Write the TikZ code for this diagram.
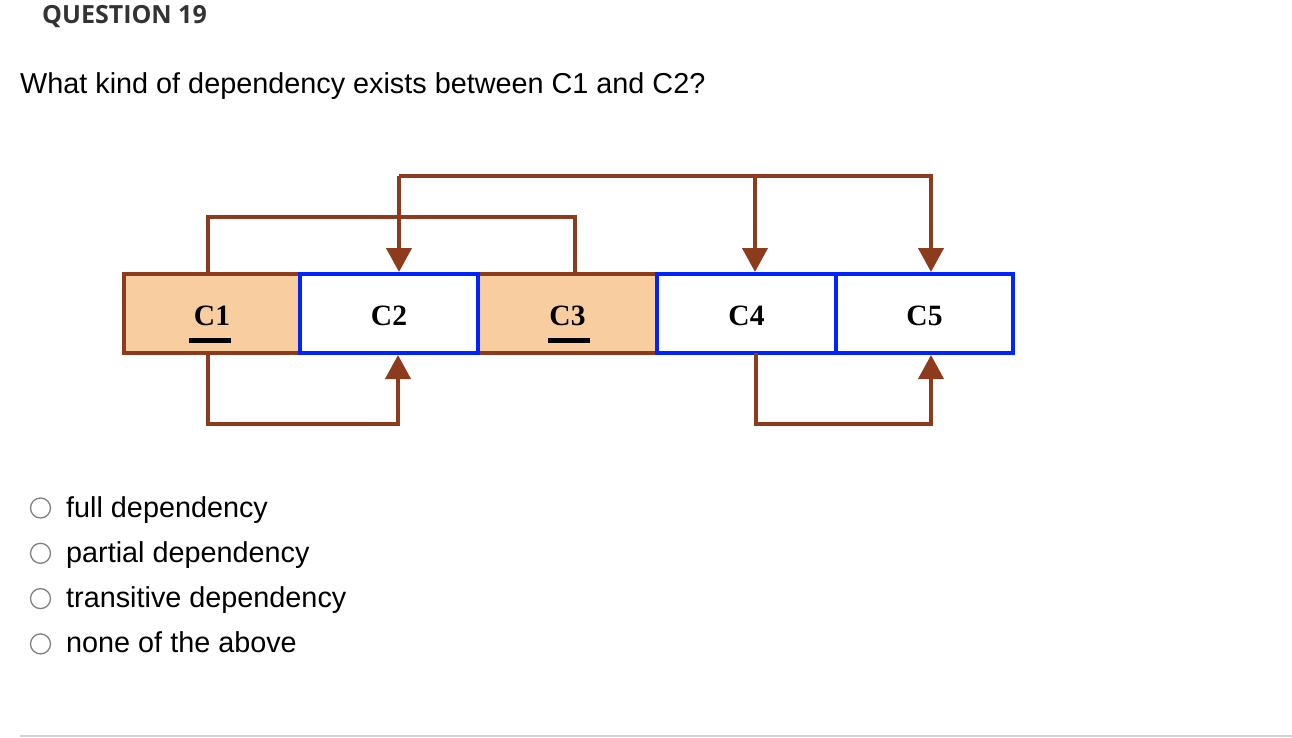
\documentclass[tikz,border=0pt]{standalone}
\usepackage{fontspec}
\setmainfont{Liberation Sans}
\newfontfamily\headfont{Open Sans}
\newfontfamily\cellfont{Liberation Serif}
\usetikzlibrary{arrows.meta}
\definecolor{brownline}{RGB}{140,60,28}
\definecolor{peach}{RGB}{248,206,160}
\definecolor{blueline}{RGB}{0,36,255}
\definecolor{headgray}{RGB}{51,51,51}
\definecolor{radiogray}{RGB}{128,128,128}
\definecolor{rulegray}{RGB}{210,210,210}
\tikzset{
  cellbase/.style={rectangle, line width=4pt, minimum height=79pt, inner sep=0pt, outer sep=0pt,
    text height=24pt, text depth=0pt,
    font=\cellfont\bfseries\fontsize{29.5}{32}\selectfont},
  keycell/.style={cellbase, draw=brownline, fill=peach, minimum width=176pt},
  depcell/.style={cellbase, draw=blueline, fill=white},
  dep/.style={draw=brownline, line width=4pt, line join=miter},
  deparrow/.style={dep, -{Triangle[width=25pt,length=24pt]}},
  keybar/.style={fill=black},
  radio/.style={circle, draw=radiogray, line width=1.3pt, minimum size=20pt, inner sep=0pt},
  opt/.style={anchor=base west, inner sep=0pt, font=\fontsize{28.8}{32}\selectfont},
}
\begin{document}
\begin{tikzpicture}[x=1pt,y=-1pt]
\useasboundingbox (0,0) rectangle (1292,738);
% header texts
\node[anchor=base west, inner sep=0pt, text=headgray, font=\headfont\bfseries\fontsize{25}{28}\selectfont] (head) at (42,23.5) {QUESTION 19};
\node[anchor=base west, inner sep=0pt, font=\fontsize{28.8}{32}\selectfont] (quest) at (20,93.5) {What kind of dependency exists between C1 and C2?};
% cells
\node[keycell] (c1) at (212,313.5) {C1};
\node[keycell, minimum width=179pt] (c3) at (567.5,313.5) {C3};
\node[depcell, minimum width=178pt] (c2) at (389,313.5) {C2};
\node[depcell, minimum width=179pt] (c4) at (746.5,313.5) {C4};
\node[depcell, minimum width=177pt] (c5) at (924.5,313.5) {C5};
% key underlines
\fill[keybar] ([xshift=-23pt,yshift=-24.5pt]c1.center) rectangle ++(42,4.5);
\fill[keybar] ([xshift=-20pt,yshift=-24.5pt]c3.center) rectangle ++(42,4.5);
% dependencies above
\draw[dep] ([xshift=-4pt]c1.north) -- ++(0,-57) -| ([xshift=7.5pt]c3.north);
\draw[deparrow] ([xshift=10pt,yshift=98pt]c2.north) -- ([xshift=10pt,yshift=2pt]c2.north);
\draw[deparrow] ([xshift=8.5pt,yshift=98pt]c4.north) -- ([xshift=8.5pt,yshift=2pt]c4.north);
\draw[deparrow] ([xshift=10pt,yshift=98pt]c2.north) -| ([xshift=6.5pt,yshift=2pt]c5.north);
% dependencies below
\draw[deparrow] ([xshift=-4pt]c1.south) -- ++(0,71) -| ([xshift=9pt,yshift=-2pt]c2.south);
\draw[deparrow] ([xshift=9.5pt]c4.south) -- ++(0,71) -| ([xshift=6.5pt,yshift=-2pt]c5.south);
% options
\node[radio] (r1) at (40.5,508) {};
\node[radio] (r2) at (40.5,553.3) {};
\node[radio] (r3) at (40.5,598.6) {};
\node[radio] (r4) at (40.5,643.9) {};
\node[opt] (o1) at (66,517) {full dependency};
\node[opt] (o2) at (66,562.3) {partial dependency};
\node[opt] (o3) at (66,607.6) {transitive dependency};
\node[opt] (o4) at (66,652.9) {none of the above};
% bottom rule
\draw[rulegray, line width=1.5pt] (20,736) -- (1292,736);
\end{tikzpicture}
\end{document}
